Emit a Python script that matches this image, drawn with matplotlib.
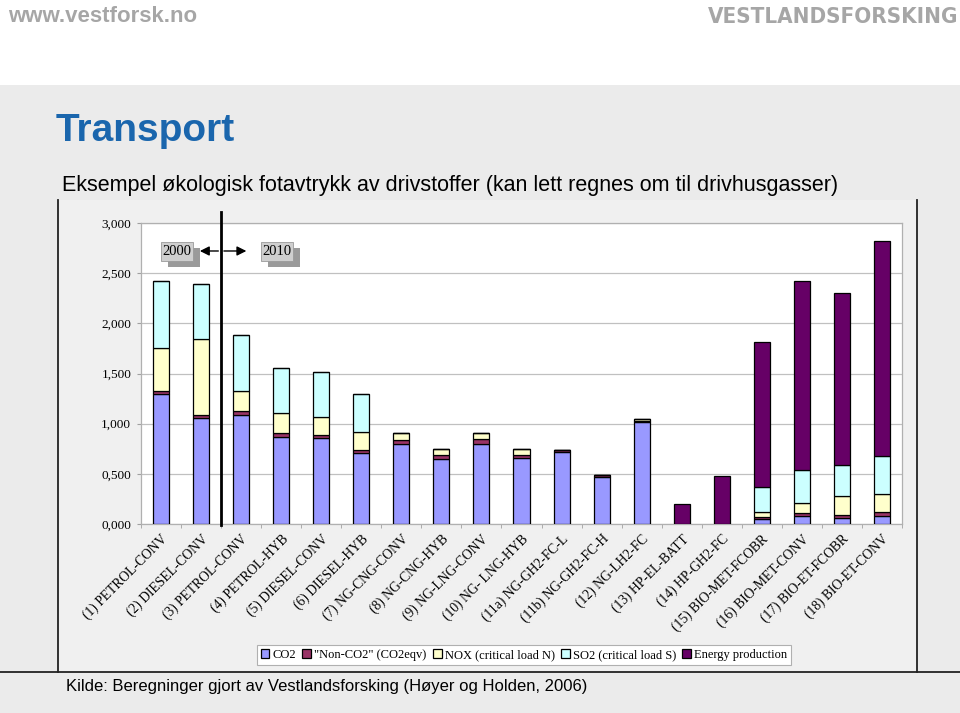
import matplotlib
matplotlib.use("Agg")
import matplotlib.pyplot as plt
from matplotlib.patches import Rectangle
from matplotlib.lines import Line2D
from matplotlib.transforms import ScaledTranslation
import numpy as np

# data
labels = ["(1) PETROL-CONV", "(2) DIESEL-CONV", "(3) PETROL-CONV", "(4) PETROL-HYB",
          "(5) DIESEL-CONV", "(6) DIESEL-HYB", "(7) NG-CNG-CONV", "(8) NG-CNG-HYB",
          "(9) NG-LNG-CONV", "(10) NG- LNG-HYB", "(11a) NG-GH2-FC-L", "(11b) NG-GH2-FC-H",
          "(12) NG-LH2-FC", "(13) HP-EL-BATT", "(14) HP-GH2-FC", "(15) BIO-MET-FCOBR",
          "(16) BIO-MET-CONV", "(17) BIO-ET-FCOBR", "(18) BIO-ET-CONV"]
co2 = [1293, 1056, 1083, 870, 857, 711, 797, 648, 797, 655, 718, 468, 1020, 0, 0, 50, 80, 63, 77]
nonco2 = [36, 27, 40, 40, 27, 27, 40, 40, 47, 36, 20, 17, 10, 0, 0, 20, 33, 27, 43]
nox = [422, 764, 200, 193, 185, 182, 67, 60, 66, 60, 0, 0, 17, 0, 0, 45, 93, 192, 179]
so2 = [671, 545, 558, 449, 446, 373, 0, 0, 0, 0, 0, 0, 0, 0, 0, 253, 335, 306, 379]
energy = [0] * 13 + [199, 475, 1445, 1881, 1717, 2146]

series = [co2, nonco2, nox, so2, energy]
names = ["CO2", '"Non-CO2" (CO2eqv)', "NOX (critical load N)", "SO2 (critical load S)",
         "Energy production"]
colors = ["#9999ff", "#993366", "#ffffcc", "#ccffff", "#660066"]

ytick_vals = [0, 500, 1000, 1500, 2000, 2500, 3000]
ytick_labels = ["0,000", "0,500", "1,000", "1,500", "2,000", "2,500", "3,000"]

W, H = 960, 713
fig = plt.figure(figsize=(9.6, 7.13), dpi=100)
fig.patch.set_facecolor("white")

def fx(px):
    return px / W

def fy(py):
    return 1 - py / H

# slide background
fig.patches.append(Rectangle((0, fy(713)), 1, fy(85) - fy(713), transform=fig.transFigure,
                             facecolor="#ebebeb", edgecolor="none", zorder=-3))
fig.patches.append(Rectangle((fx(58), fy(672)), fx(917) - fx(58), fy(200) - fy(672),
                             transform=fig.transFigure, facecolor="#f0f0f0",
                             edgecolor="none", zorder=-2))
for xs, ys in [([58, 58], [200, 672]), ([917, 917], [200, 672]), ([0, 960], [672, 672])]:
    fig.lines.append(Line2D([fx(x) for x in xs], [fy(y) for y in ys], transform=fig.transFigure,
                            color="#222222", lw=1.3, zorder=-1))

fig.text(fx(8), fy(17), "www.vestforsk.no", color="#a6a6a6", fontsize=16, weight="bold",
         family=["Liberation Sans", "DejaVu Sans"], va="center", ha="left")
fig.text(fx(958), fy(17), "VESTLANDSFORSKING", color="#a6a6a6", fontsize=16, weight="bold",
         family="DejaVu Sans", stretch="condensed", va="center", ha="right")
fig.text(fx(56), fy(131), "Transport", color="#1a66ad", fontsize=28, weight="bold",
         family=["Liberation Sans", "DejaVu Sans"], va="center", ha="left")
fig.text(fx(62), fy(186), "Eksempel økologisk fotavtrykk av drivstoffer (kan lett regnes om til drivhusgasser)",
         color="black", fontsize=15.5, family=["Liberation Sans", "DejaVu Sans"],
         va="center", ha="left")
fig.text(fx(66), fy(687), "Kilde: Beregninger gjort av Vestlandsforsking (Høyer og Holden, 2006)",
         color="black", fontsize=12, family=["Liberation Sans", "DejaVu Sans"],
         va="center", ha="left")

ax = fig.add_axes([fx(141), fy(524), fx(902) - fx(141), fy(223) - fy(524)])
ax.set_facecolor("white")
x = np.arange(len(labels))
bottom = np.zeros(len(labels))
for vals, name, c in zip(series, names, colors):
    vals = np.array(vals, dtype=float)
    ax.bar(x, vals, 0.4, bottom=bottom, color=c, edgecolor="black", linewidth=0.9,
           label=name, zorder=3)
    bottom += vals

ax.set_xlim(-0.5, len(labels) - 0.5)
ax.set_ylim(0, 3000)
ax.set_yticks(ytick_vals)
ax.set_yticklabels(ytick_labels, family=["Liberation Serif", "DejaVu Serif"], fontsize=9.5)
ax.yaxis.grid(True, color="#c0c0c0", lw=0.9, zorder=0)
ax.set_xticks(x)
ax.set_xticklabels(labels, rotation=45, ha="right", va="top", rotation_mode="anchor",
                   family=["Liberation Serif", "DejaVu Serif"], fontsize=9.8)
shift = ScaledTranslation(-0.06, -0.01, fig.dpi_scale_trans)
for lab in ax.get_xticklabels():
    lab.set_transform(lab.get_transform() + shift)
ax.tick_params(axis="x", length=0, pad=6)
ax.set_xticks(np.arange(-0.5, len(labels), 1), minor=True)
ax.tick_params(axis="x", which="minor", length=3, color="#a0a0a0")
ax.tick_params(axis="y", length=3, color="#a0a0a0", pad=4)
for s in ax.spines.values():
    s.set_color("#b0b0b0")
    s.set_linewidth(0.9)

# 2000 / 2010 divider
ax.plot([1.5, 1.5], [-10, 3110], color="black", lw=2, clip_on=False, zorder=5)
ax.annotate("", xy=(0.9, 2721), xytext=(1.5, 2721),
            arrowprops=dict(arrowstyle="-|>", color="black", lw=1, mutation_scale=14),
            annotation_clip=False, zorder=6)
ax.annotate("", xy=(2.2, 2721), xytext=(1.5, 2721),
            arrowprops=dict(arrowstyle="-|>", color="black", lw=1, mutation_scale=14),
            annotation_clip=False, zorder=6)
for x0, txt in [(0.0, "2000"), (2.5, "2010")]:
    ax.add_patch(Rectangle((x0 + 0.18, 2560), 0.8, 190, facecolor="#9a9a9a",
                           edgecolor="none", zorder=5, clip_on=False))
    ax.add_patch(Rectangle((x0, 2621), 0.8, 190, facecolor="#cfcfcf",
                           edgecolor="#9a9a9a", lw=0.6, zorder=6, clip_on=False))
    ax.text(x0 + 0.4, 2716, txt, ha="center", va="center", fontsize=10.5,
            family=["Liberation Serif", "DejaVu Serif"], zorder=7)

leg = fig.legend(loc="center", bbox_to_anchor=(fx(524), fy(655)), ncol=5, frameon=True,
                 fancybox=False, edgecolor="#b0b0b0", facecolor="white", framealpha=1,
                 handlelength=0.7, handleheight=0.7, handletextpad=0.25, columnspacing=0.5,
                 borderpad=0.3, prop={"family": ["Liberation Serif", "DejaVu Serif"], "size": 9})
leg.get_frame().set_linewidth(0.8)

fig.savefig("out.png", dpi=100)
